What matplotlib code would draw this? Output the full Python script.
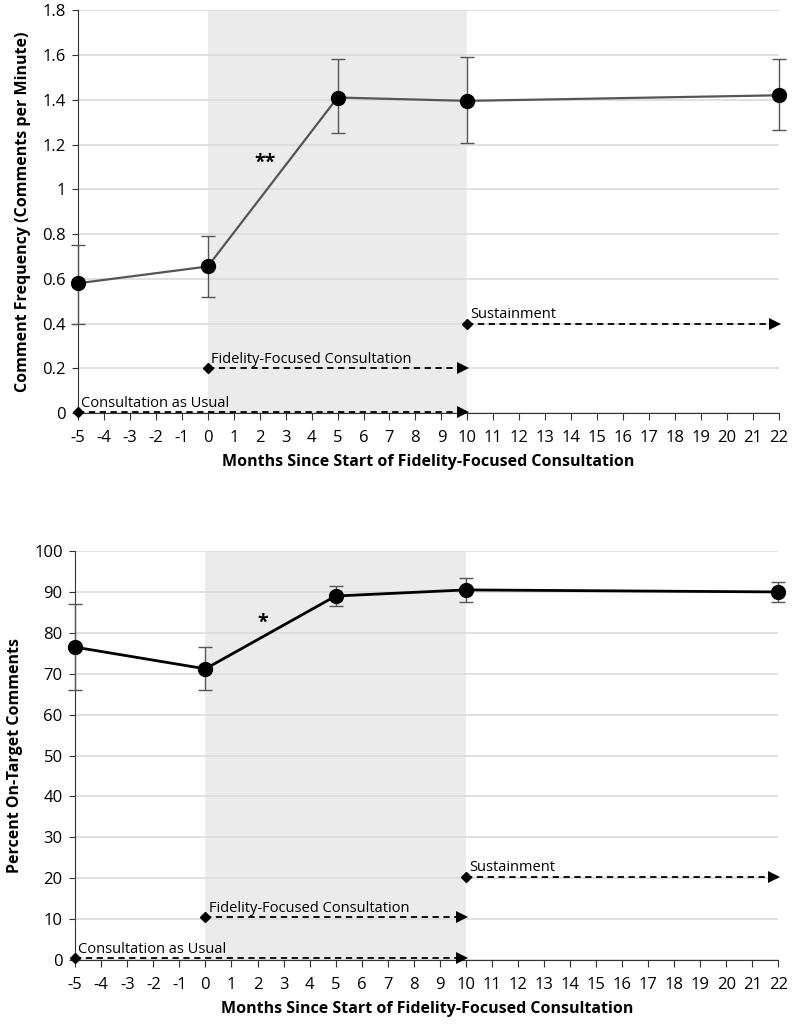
import matplotlib
matplotlib.use("Agg")
import matplotlib.pyplot as plt
import numpy as np

# Data
months = [-5, 0, 5, 10, 22]
freq = [0.58, 0.655, 1.41, 1.395, 1.42]
freq_lo = [0.40, 0.52, 1.25, 1.205, 1.265]
freq_hi = [0.75, 0.79, 1.58, 1.59, 1.58]

pct = [76.5, 71.2, 89.0, 90.5, 90.0]
pct_lo = [66.0, 66.0, 86.5, 87.5, 87.5]
pct_hi = [87.0, 76.5, 91.5, 93.5, 92.5]

phase_labels = ["Consultation as Usual", "Fidelity-Focused Consultation", "Sustainment"]
phase_start = [-5, 0, 10]
phase_end = [10, 10, 22]
phase_y_top = [0.005, 0.2, 0.4]
phase_y_bot = [0.4, 10.4, 20.4]

xticks = list(range(-5, 23))
xlabel = "Months Since Start of Fidelity-Focused Consultation"

plt.rcParams['font.family'] = ['Open Sans', 'DejaVu Sans']

fig = plt.figure(figsize=(8, 10.25), dpi=100)
ax1 = fig.add_axes([0.0975, 0.597, 0.876, 0.393])
ax2 = fig.add_axes([0.094, 0.0634, 0.879, 0.399])


def style(ax, ymax, ystep, yfmt):
    ax.set_xlim(-5, 22)
    ax.set_ylim(0, ymax)
    ax.axvspan(0, 10, color='#ebebeb', zorder=0, lw=0)
    ax.set_xticks(xticks)
    ax.set_xticklabels([str(t) for t in xticks], fontsize=12)
    yt = np.arange(0, ymax + ystep / 2, ystep)
    ax.set_yticks(yt)
    ax.set_yticklabels([yfmt(v) for v in yt], fontsize=12)
    ax.grid(axis='y', color='#dddddd', lw=1.3, zorder=0.5)
    ax.set_axisbelow(True)
    for s in ['top', 'right']:
        ax.spines[s].set_visible(False)
    ax.spines['left'].set_color('#333333')
    ax.spines['bottom'].set_color('#333333')
    ax.tick_params(axis='x', direction='out', length=5, color='#333333', pad=7)
    ax.tick_params(axis='y', direction='out', length=4, color='#333333', pad=5)
    ax.set_xlabel(xlabel, fontsize=11.5, fontweight='bold', labelpad=6)


def phases(ax, ys, dy):
    for lab, s, e, y in zip(phase_labels, phase_start, phase_end, ys):
        ax.plot([s, e - 0.15], [y, y], ls=(0, (3.5, 2.5)), color='black', lw=1.3,
                zorder=3, clip_on=False)
        ax.plot([s], [y], marker='D', ms=5.5, color='black', zorder=4, clip_on=False)
        ax.plot([e - 0.15], [y], marker='>', ms=8, color='black', zorder=4,
                clip_on=False, markeredgewidth=0)
        ax.text(s + 0.12, y + dy, lab, fontsize=10.5, ha='left', va='bottom', zorder=5)


def fmt_top(v):
    s = f"{v:.1f}"
    if s.endswith(".0"):
        s = s[:-2]
    return s


style(ax1, 1.8, 0.2, fmt_top)
ax1.set_ylabel("Comment Frequency (Comments per Minute)", fontsize=11.5,
               fontweight='bold', labelpad=8)
err1 = [np.array(freq) - np.array(freq_lo), np.array(freq_hi) - np.array(freq)]
ax1.errorbar(months, freq, yerr=err1, fmt='none', ecolor='#555555', elinewidth=1,
             capsize=5, capthick=1, zorder=3, clip_on=False)
ax1.plot(months, freq, color='#555555', lw=1.6, zorder=4)
ax1.plot(months, freq, 'o', color='black', ms=10, zorder=5, clip_on=False)
phases(ax1, phase_y_top, 0.005)
ax1.text(2.2, 1.12, "**", fontsize=14, fontweight='bold', ha='center', va='center')

style(ax2, 100, 10, lambda v: f"{int(round(v))}")
ax2.set_ylabel("Percent On-Target Comments", fontsize=11.5, fontweight='bold', labelpad=8)
err2 = [np.array(pct) - np.array(pct_lo), np.array(pct_hi) - np.array(pct)]
ax2.errorbar(months, pct, yerr=err2, fmt='none', ecolor='#555555', elinewidth=1,
             capsize=5, capthick=1, zorder=3, clip_on=False)
ax2.plot(months, pct, color='black', lw=2, zorder=4)
ax2.plot(months, pct, 'o', color='black', ms=10, zorder=5, clip_on=False)
phases(ax2, phase_y_bot, 0.4)
ax2.text(2.2, 82.5, "*", fontsize=14, fontweight='bold', ha='center', va='center')

fig.savefig("out.png", dpi=100)
